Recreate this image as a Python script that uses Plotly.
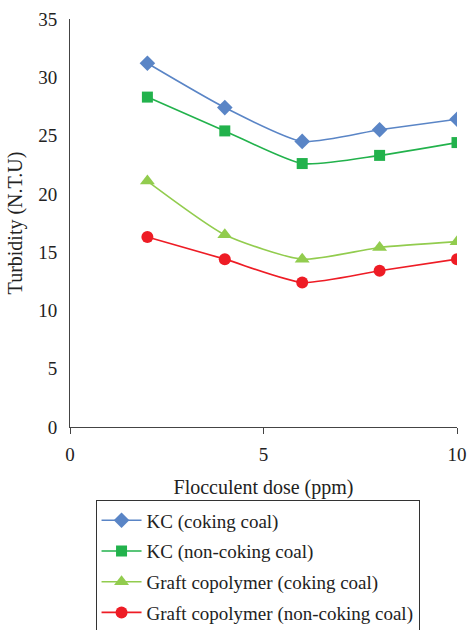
import plotly.graph_objects as go

dose = [2, 4, 6, 8, 10]
kc_coking = [31.2, 27.4, 24.5, 25.5, 26.4]
kc_noncoking = [28.3, 25.4, 22.6, 23.3, 24.4]
graft_coking = [21.1, 16.5, 14.4, 15.4, 15.9]
graft_noncoking = [16.3, 14.4, 12.4, 13.4, 14.4]

series = [
    ("KC (coking coal)", kc_coking, "#5A85C6", "diamond", 12),
    ("KC (non-coking coal)", kc_noncoking, "#22B24C", "square", 11),
    ("Graft copolymer (coking coal)", graft_coking, "#92CC4E", "triangle-up", 13),
    ("Graft copolymer (non-coking coal)", graft_noncoking, "#EE1C25", "circle", 12),
]

fig = go.Figure()
for i, (name, vals, color, sym, size) in enumerate(series):
    fig.add_trace(go.Scatter(
        x=dose, y=vals, name=name, mode="lines+markers", legendgroup=f"g{i}",
        line=dict(color=color, width=1.6, shape="spline", smoothing=0.6),
        marker=dict(symbol=sym, size=size, color=color),
    ))

font = "Liberation Serif"
fig.update_layout(
    width=468, height=630,
    margin=dict(l=70, r=11, t=19, b=203, autoexpand=False),
    plot_bgcolor="white", paper_bgcolor="white",
    font=dict(family=font, size=17, color="#222"),
    showlegend=True,
    legend=dict(
        x=0.066, y=-0.18, xanchor="left", yanchor="top",
        bordercolor="#333", borderwidth=1, font=dict(size=19, family=font, color="#222"),
        bgcolor="white", tracegroupgap=3, itemwidth=40,
    ),
    xaxis=dict(
        range=[0, 10], tickvals=[0, 5, 10], showline=True, linecolor="#444",
        linewidth=1, ticks="outside", ticklen=6, tickcolor="#444",
        showgrid=False, zeroline=False, tickfont=dict(size=19, family=font),
        ticklabelstandoff=4,
        title=dict(text="Flocculent dose (ppm)", standoff=16, font=dict(size=20, family=font)),
    ),
    yaxis=dict(
        range=[0, 35], dtick=5, showline=True, linecolor="#444", linewidth=1,
        ticks="", showgrid=False, zeroline=False, tickfont=dict(size=19, family=font),
        ticklabelstandoff=8,
        title=dict(text="Turbidity (N.T.U)", standoff=10, font=dict(size=20, family=font)),
    ),
)

fig.write_html("out.html", config={"displayModeBar": False},
               post_script="document.body.style.margin='0';")
